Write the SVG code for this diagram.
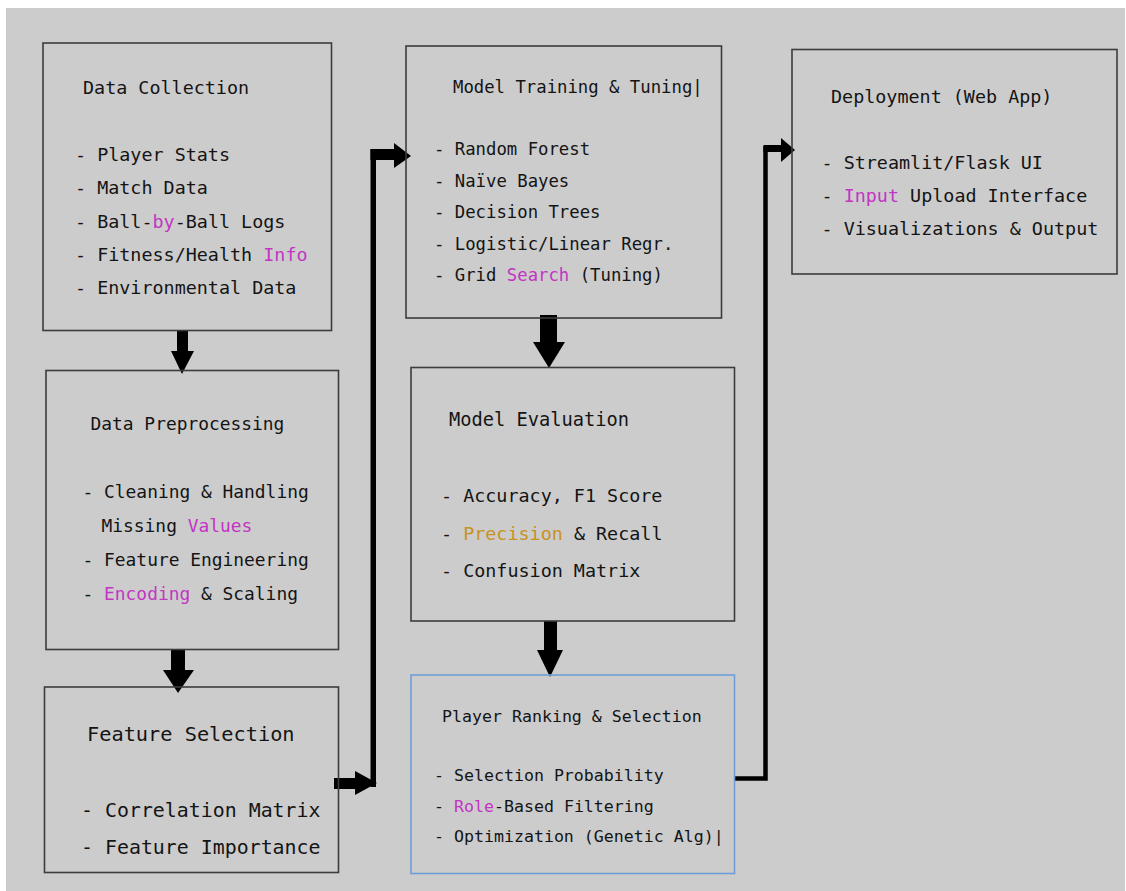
<svg xmlns="http://www.w3.org/2000/svg" width="1126" height="891" viewBox="0 0 1126 891">
  <style>
    .box { fill: none; stroke: #3c3c3c; stroke-width: 1.6; }
    .box-blue { fill: none; stroke: #6f9ed6; stroke-width: 1.6; }
    text { font-family: "DejaVu Sans Mono", "Liberation Mono", monospace; fill: #141414; }
    .hl { fill: #c335c3; }
    .gold { fill: #c8921f; }
    .arrow { fill: #000; }
    .line { fill: none; stroke: #000; }
  </style>

  <!-- page background -->
  <rect x="0" y="0" width="1126" height="891" fill="#ffffff"/>
  <rect x="6" y="8" width="1119" height="883" fill="#cccccc"/>

  <!-- connectors -->
  <g id="connectors">
    <!-- Data Collection -> Data Preprocessing -->
    <rect class="arrow" x="177" y="330" width="11" height="22"/>
    <polygon class="arrow" points="171,351 194,351 182,374"/>
    <!-- Data Preprocessing -> Feature Selection -->
    <rect class="arrow" x="171" y="649" width="14" height="22"/>
    <polygon class="arrow" points="163,670 194,670 178,693"/>
    <!-- Feature Selection -> Model Training (elbow) -->
    <rect class="arrow" x="334" y="778" width="22" height="11"/>
    <polygon class="arrow" points="355,771 377,783 355,795"/>
    <rect class="arrow" x="370.5" y="149" width="5.5" height="638"/>
    <rect class="arrow" x="370.5" y="149" width="25" height="11"/>
    <polygon class="arrow" points="394,143 411,156 394,168"/>
    <!-- Model Training -> Model Evaluation -->
    <rect class="arrow" x="540" y="315" width="17" height="28"/>
    <polygon class="arrow" points="533,342 565,342 549,368"/>
    <!-- Model Evaluation -> Player Ranking -->
    <rect class="arrow" x="544" y="621" width="13" height="30"/>
    <polygon class="arrow" points="537,650 563,650 550,677"/>
    <!-- Player Ranking -> Deployment (elbow) -->
    <polyline class="line" stroke-width="4.5" points="735,778.5 765.5,778.5 765.5,148.5 782,148.5"/>
    <rect class="arrow" x="763.5" y="145" width="19" height="7"/>
    <polygon class="arrow" points="781,138 795,150 781,162"/>
  </g>

  <!-- Data Collection -->
  <g id="data-collection" font-size="18.4">
    <rect class="box" x="43" y="43" width="288.5" height="287.5"/>
    <text x="83" y="94">Data Collection</text>
    <text x="75" y="161">- Player Stats</text>
    <text x="75" y="194">- Match Data</text>
    <text x="75" y="227.5">- Ball-<tspan class="hl">by</tspan>-Ball Logs</text>
    <text x="75" y="260.5">- Fitness/Health <tspan class="hl">Info</tspan></text>
    <text x="75" y="293.5">- Environmental Data</text>
  </g>

  <!-- Data Preprocessing -->
  <g id="data-preprocessing" font-size="17.9">
    <rect class="box" x="46" y="370.5" width="292.5" height="279"/>
    <text x="90.5" y="430">Data Preprocessing</text>
    <text x="82.5" y="498">- Cleaning &amp; Handling</text>
    <text x="101.5" y="532">Missing <tspan class="hl">Values</tspan></text>
    <text x="82.5" y="566">- Feature Engineering</text>
    <text x="82.5" y="600">- <tspan class="hl">Encoding</tspan> &amp; Scaling</text>
  </g>

  <!-- Feature Selection -->
  <g id="feature-selection" font-size="19.9">
    <rect class="box" x="44.5" y="687" width="294" height="185.5"/>
    <text x="87" y="741" font-size="20.3">Feature Selection</text>
    <text x="81" y="817">- Correlation Matrix</text>
    <text x="81" y="853.5">- Feature Importance</text>
  </g>

  <!-- Model Training & Tuning -->
  <g id="model-training" font-size="17.3">
    <rect class="box" x="406" y="46" width="315.5" height="272"/>
    <text x="453" y="93">Model Training &amp; Tuning|</text>
    <text x="434" y="155">- Random Forest</text>
    <text x="434" y="187">- Naïve Bayes</text>
    <text x="434" y="218">- Decision Trees</text>
    <text x="434" y="249.5">- Logistic/Linear Regr.</text>
    <text x="434" y="280.5">- Grid <tspan class="hl">Search</tspan> (Tuning)</text>
  </g>

  <!-- Model Evaluation -->
  <g id="model-evaluation" font-size="18.4">
    <rect class="box" x="411" y="367.5" width="323.5" height="253.5"/>
    <text x="449" y="426" font-size="18.7">Model Evaluation</text>
    <text x="441" y="502">- Accuracy, F1 Score</text>
    <text x="441" y="539.5">- <tspan class="gold">Precision</tspan> &amp; Recall</text>
    <text x="441" y="577">- Confusion Matrix</text>
  </g>

  <!-- Player Ranking & Selection -->
  <g id="player-ranking" font-size="16.6">
    <rect class="box-blue" x="411" y="675" width="323.5" height="198.5"/>
    <text x="442" y="722">Player Ranking &amp; Selection</text>
    <text x="434" y="781">- Selection Probability</text>
    <text x="434" y="812">- <tspan class="hl">Role</tspan>-Based Filtering</text>
    <text x="434" y="842">- Optimization (Genetic Alg)|</text>
  </g>

  <!-- Deployment -->
  <g id="deployment" font-size="18.4">
    <rect class="box" x="792" y="49.5" width="325" height="224.5"/>
    <text x="831" y="103">Deployment (Web App)</text>
    <text x="821.5" y="168.5">- Streamlit/Flask UI</text>
    <text x="821.5" y="202">- <tspan class="hl">Input</tspan> Upload Interface</text>
    <text x="821.5" y="235">- Visualizations &amp; Output</text>
  </g>
</svg>
